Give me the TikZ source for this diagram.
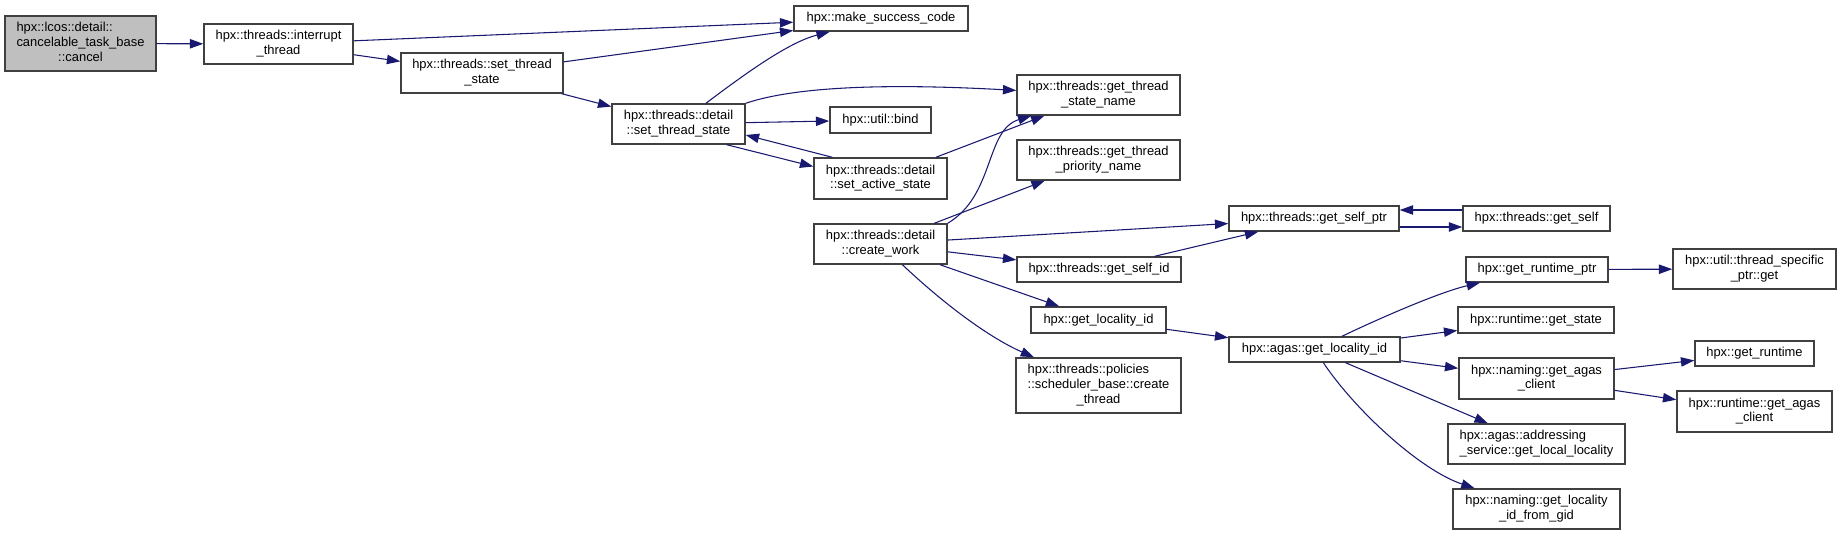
\documentclass[tikz,border=0pt]{standalone}
\usepackage{fontspec}
\setmainfont{Liberation Sans}
\usetikzlibrary{arrows.meta,calc}
\definecolor{edgec}{HTML}{191970}
\definecolor{boxc}{HTML}{404040}
\definecolor{grayfill}{HTML}{BFBFBF}
\newcommand{\lastl}[1]{\multicolumn{1}{@{}c@{}}{#1}}
\newcommand{\mlab}[1]{\begin{tabular}{@{}l@{}}#1\end{tabular}}
\tikzset{
 box/.style={draw=boxc, line width=1.1pt, fill=white, inner sep=0pt, font=\fontsize{9.7}{11}\selectfont, text=black},
 bbx/.style n args={4}{at={({(#1+#3)/2},{(#2+#4)/2})}, minimum width={(#3-#1)*0.75pt}, minimum height={(#4-#2)*0.75pt}},
 edge/.style={draw=edgec, line width=0.8pt, -{Triangle[length=10pt,width=7pt]}},
}
\begin{document}
\begin{tikzpicture}[x=0.75pt,y=-0.75pt]
\useasboundingbox (0,0) rectangle (1841,535);
\node[box, fill=grayfill, bbx={5}{16}{156}{71}] (cancel) {\mlab{hpx::lcos::detail::\\cancelable\_task\_base\\\lastl{::cancel}}};
\node[box, bbx={204}{24}{353}{64}] (interrupt) {\mlab{hpx::threads::interrupt\\\lastl{\_thread}}};
\node[box, bbx={401}{53}{563}{93}] (tset) {\mlab{hpx::threads::set\_thread\\\lastl{\_state}}};
\node[box, bbx={794}{6}{968}{31}] (msc) {hpx::make\_success\_code};
\node[box, bbx={612}{104}{745}{144}] (dset) {\mlab{hpx::threads::detail\\\lastl{::set\_thread\_state}}};
\node[box, bbx={830}{107}{931}{133}] (bind) {hpx::util::bind};
\node[box, bbx={1017}{75}{1180}{115}] (gtsn) {\mlab{hpx::threads::get\_thread\\\lastl{\_state\_name}}};
\node[box, bbx={814}{158}{947}{199}] (sas) {\mlab{hpx::threads::detail\\\lastl{::set\_active\_state}}};
\node[box, bbx={1017}{140}{1180}{180}] (gtpn) {\mlab{hpx::threads::get\_thread\\\lastl{\_priority\_name}}};
\node[box, bbx={814}{224}{947}{264}] (cw) {\mlab{hpx::threads::detail\\\lastl{::create\_work}}};
\node[box, bbx={1229}{206}{1399}{231}] (gsp) {hpx::threads::get\_self\_ptr};
\node[box, bbx={1463}{206}{1610}{231}] (gs) {hpx::threads::get\_self};
\node[box, bbx={1017}{257}{1181}{282}] (gsid) {hpx::threads::get\_self\_id};
\node[box, bbx={1031}{307}{1166}{333}] (gli) {hpx::get\_locality\_id};
\node[box, bbx={1016}{358}{1181}{413}] (sched) {\mlab{hpx::threads::policies\\::scheduler\_base::create\\\lastl{\_thread}}};
\node[box, bbx={1229}{337}{1400}{362}] (agli) {hpx::agas::get\_locality\_id};
\node[box, bbx={1466}{257}{1608}{282}] (grp) {hpx::get\_runtime\_ptr};
\node[box, bbx={1673}{249}{1836}{289}] (tsp) {\mlab{hpx::util::thread\_specific\\\lastl{\_ptr::get}}};
\node[box, bbx={1458}{307}{1614}{333}] (rgs) {hpx::runtime::get\_state};
\node[box, bbx={1459}{358}{1614}{399}] (ngac) {\mlab{hpx::naming::get\_agas\\\lastl{\_client}}};
\node[box, bbx={1695}{341}{1814}{366}] (gr) {hpx::get\_runtime};
\node[box, bbx={1677}{391}{1832}{432}] (rgac) {\mlab{hpx::runtime::get\_agas\\\lastl{\_client}}};
\node[box, bbx={1448}{424}{1625}{464}] (as) {\mlab{hpx::agas::addressing\\\lastl{\_service::get\_local\_locality}}};
\node[box, bbx={1453}{489}{1620}{529}] (glifg) {\mlab{hpx::naming::get\_locality\\\lastl{\_id\_from\_gid}}};

\draw[edge] (cancel) -- (interrupt);
\draw[edge] (interrupt) -- (msc);
\draw[edge] (interrupt) -- (tset);
\draw[edge] (tset) -- (msc);
\draw[edge] (tset) -- (dset);
\draw[edge] (dset) .. controls (750,70) and (790,42) .. (msc);
\draw[edge] (dset.north east) .. controls (800,85) and (900,84) .. (gtsn);
\draw[edge] (dset) -- (bind);
\draw[edge] ($(dset.south east)+(-19,0)$) -- ($(sas.west)+(0,-12)$);
\draw[edge] ($(sas.north west)+(19,0)$) -- ($(dset.east)+(0,11)$);
\draw[edge] (sas) -- (gtsn);
\draw[edge] (cw.north east) .. controls (995,195) and (985,130) .. (gtsn);
\draw[edge] (cw) -- (gtpn);
\draw[edge] (cw) -- (gsp);
\draw[edge] (cw) -- (gsid);
\draw[edge] (cw) -- (gli);
\draw[edge] (cw) .. controls (945,305) and (990,338) .. (sched);
\draw[edge] (gsid) -- (gsp);
\draw[edge] ($(gsp.east)+(0,8.5)$) -- ($(gs.west)+(0,8.5)$);
\draw[edge] ($(gs.west)+(0,-8.5)$) -- ($(gsp.east)+(0,-8.5)$);
\draw[edge] (gli) -- (agli);
\draw[edge] (agli) .. controls (1380,318) and (1440,292) .. (grp);
\draw[edge] (agli) -- (rgs);
\draw[edge] (agli) -- (ngac);
\draw[edge] (agli) -- (as);
\draw[edge] (agli) .. controls (1355,410) and (1420,470) .. (glifg);
\draw[edge] (grp) -- (tsp);
\draw[edge] (ngac) -- (gr);
\draw[edge] (ngac) -- (rgac);
\end{tikzpicture}
\end{document}
